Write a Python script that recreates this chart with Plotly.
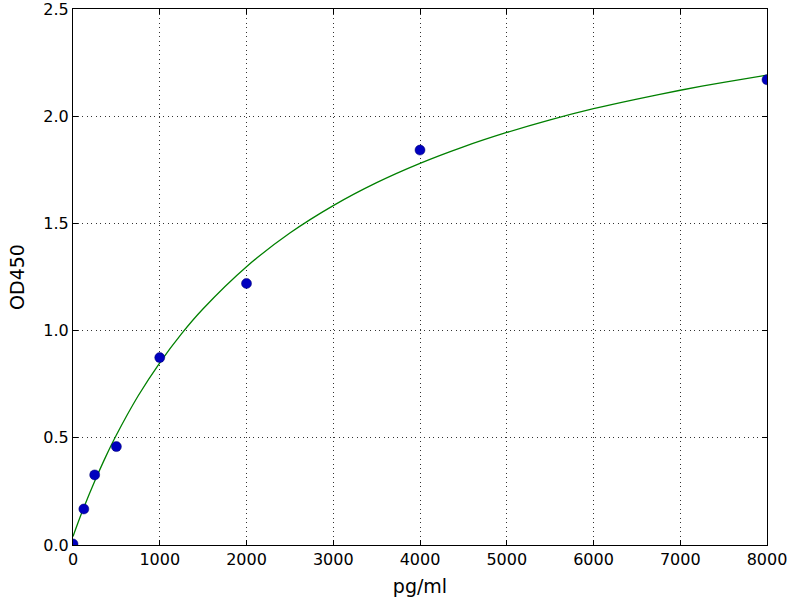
import plotly.graph_objects as go

# standard points
conc = [0, 125, 250, 500, 1000, 2000, 4000, 8000]
od450 = [0.005, 0.168, 0.327, 0.459, 0.874, 1.22, 1.842, 2.17]

# fitted curve
fit_x = [0, 50, 125, 250, 375, 500, 750, 1000, 1250, 1500, 2000, 2500, 3000,
         3500, 4000, 4500, 5000, 5500, 6000, 6500, 7000, 7500, 8000]
fit_y = [0.040, 0.096, 0.175, 0.297, 0.410, 0.513, 0.695, 0.850, 0.985,
         1.102, 1.298, 1.455, 1.583, 1.690, 1.780, 1.857, 1.924, 1.983,
         2.035, 2.080, 2.121, 2.158, 2.192]

x_ticks = [0, 1000, 2000, 3000, 4000, 5000, 6000, 7000, 8000]
y_ticks = [0.0, 0.5, 1.0, 1.5, 2.0, 2.5]

font = dict(family='DejaVu Sans', size=16, color='black')

axis_style = dict(
    showgrid=True, gridcolor='#333333', griddash='1px,3.5px', gridwidth=1,
    showline=True, linecolor='black', linewidth=1, mirror='ticks',
    ticks='inside', ticklen=5, tickcolor='black',
    zeroline=False, ticklabeloverflow='allow', automargin=False,
)

layout = go.Layout(
    width=800, height=600,
    margin=dict(l=73, r=33, t=9, b=55),
    paper_bgcolor='white',
    plot_bgcolor='white',
    font=font,
    showlegend=False,
    xaxis=dict(
        title=dict(text='pg/ml', standoff=11),
        range=[0, 8000],
        tickvals=x_ticks,
        ticktext=[str(v) for v in x_ticks],
        **axis_style
    ),
    yaxis=dict(
        title=dict(text='OD450', standoff=13),
        range=[0, 2.5],
        tickvals=y_ticks,
        ticktext=['%.1f' % v for v in y_ticks],
        **axis_style
    ),
)

fig = go.Figure(layout=layout)

fig.add_trace(go.Scatter(
    x=fit_x, y=fit_y,
    mode='lines',
    line=dict(color='#008000', width=1.3, shape='spline', smoothing=0.8),
))

fig.add_trace(go.Scatter(
    x=conc, y=od450,
    mode='markers',
    marker=dict(color='#0000bf', size=10, line=dict(color='#00006a', width=0.5)),
))

fig.write_html('out.html', config={'displayModeBar': False},
               post_script="document.body.style.margin='0';")
